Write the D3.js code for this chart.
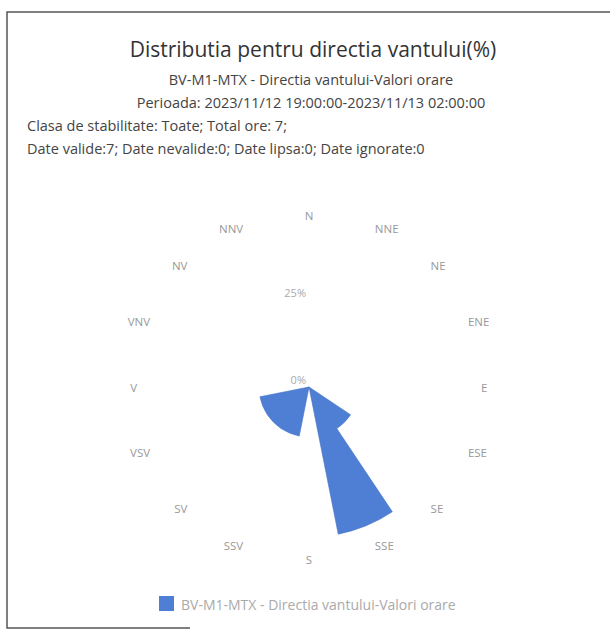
<!DOCTYPE html>
<html>
<head>
<meta charset="utf-8">
<script src="https://cdn.jsdelivr.net/npm/d3@7"></script>
<style>
  body { margin: 0; background: #fff; }
  svg { display: block; font-family: "Open Sans", "Noto Sans", sans-serif; }
</style>
</head>
<body>
<script>
// wind direction sectors (Romanian compass labels) and frequency in %
const directions = ["N", "NNE", "NE", "ENE", "E", "ESE", "SE", "SSE",
                    "S", "SSV", "SV", "VSV", "V", "VNV", "NV", "NNV"];
const frequency = [0, 0, 0, 0, 0, 0, 14.29, 42.86,
                   0, 14.29, 14.29, 14.29, 0, 0, 0, 0];
const radialTicks = [0, 25];
const radialMax = 50;

const titleText = "Distributia pentru directia vantului(%)";
const subtitleLines = ["BV-M1-MTX - Directia vantului-Valori orare",
                       "Perioada: 2023/11/12 19:00:00-2023/11/13 02:00:00"];
const infoLines = ["Clasa de stabilitate: Toate; Total ore: 7;",
                   "Date valide:7; Date nevalide:0; Date lipsa:0; Date ignorate:0"];
const seriesName = "BV-M1-MTX - Directia vantului-Valori orare";

const w = 610, h = 632;
const cx = 309, cy = 387;
const blue = "#4f7fd4";

const svg = d3.select("body").append("svg")
  .attr("width", w)
  .attr("height", h);

svg.append("rect").attr("width", w).attr("height", h).attr("fill", "#fff");

// frame (scanned printout border)
svg.append("path")
  .attr("d", "M620,12H7V628H190")
  .attr("fill", "none")
  .attr("stroke", "#555")
  .attr("stroke-width", 1.5);

// header texts
svg.append("text")
  .attr("x", 313).attr("y", 57)
  .attr("text-anchor", "middle")
  .attr("font-size", 21)
  .attr("fill", "#333")
  .text(titleText);

svg.selectAll("text.sub")
  .data(subtitleLines).enter().append("text")
  .attr("class", "sub")
  .attr("x", 311)
  .attr("y", (d, i) => 85 + i * 22.5)
  .attr("text-anchor", "middle")
  .attr("font-size", 14.5)
  .attr("fill", "#444")
  .text(d => d);

svg.selectAll("text.info")
  .data(infoLines).enter().append("text")
  .attr("class", "info")
  .attr("x", 27)
  .attr("y", (d, i) => 131 + i * 22.5)
  .attr("font-size", 14.5)
  .attr("fill", "#444")
  .text(d => d);

// polar scales
const step = 360 / directions.length;
const angle = d3.scaleBand()
  .domain(directions)
  .range([0, 360]);
const r = d3.scaleLinear()
  .domain([0, radialMax])
  .range([0, 175]);

const rad = a => a * Math.PI / 180;
const centerAngle = d => angle(d); // sector centred on its direction

const g = svg.append("g").attr("transform", `translate(${cx},${cy})`);

const arc = d3.arc()
  .innerRadius(0)
  .outerRadius(d => r(d.value))
  .startAngle(d => rad(centerAngle(d.dir) - step / 2))
  .endAngle(d => rad(centerAngle(d.dir) + step / 2));

const rows = directions.map((dir, i) => ({dir: dir, value: frequency[i]}));

g.selectAll("path.sector")
  .data(rows.filter(d => d.value > 0)).enter().append("path")
  .attr("class", "sector")
  .attr("d", arc)
  .attr("fill", blue)
  .attr("stroke", "#4574c8")
  .attr("stroke-width", 0.6);

// direction labels: left/right aligned on the sides, centred near N and S
const labelR = 172;
function anchorFor(d) {
  const a = centerAngle(d);
  if (a > 20 && a < 160) return "start";
  if (a > 200 && a < 340) return "end";
  return "middle";
}
g.selectAll("text.dir")
  .data(directions).enter().append("text")
  .attr("class", "dir")
  .attr("x", d => Math.sin(rad(centerAngle(d))) * labelR)
  .attr("y", d => -Math.cos(rad(centerAngle(d))) * labelR)
  .attr("text-anchor", anchorFor)
  .attr("dominant-baseline", "central")
  .attr("font-size", 11.5)
  .attr("fill", "#999")
  .text(d => d);

// radial tick labels
g.selectAll("text.tick")
  .data(radialTicks).enter().append("text")
  .attr("class", "tick")
  .attr("x", -3)
  .attr("y", d => -r(d) - 3)
  .attr("text-anchor", "end")
  .attr("font-size", 11)
  .attr("fill", "#aaa")
  .text(d => d + "%");

// legend
const legend = svg.append("g").attr("transform", "translate(159,596)");
legend.append("rect")
  .attr("width", 15).attr("height", 15)
  .attr("fill", blue);
legend.append("text")
  .attr("x", 22).attr("y", 8)
  .attr("dominant-baseline", "central")
  .attr("font-size", 14)
  .attr("fill", "#aaa")
  .text(seriesName);
</script>
</body>
</html>
